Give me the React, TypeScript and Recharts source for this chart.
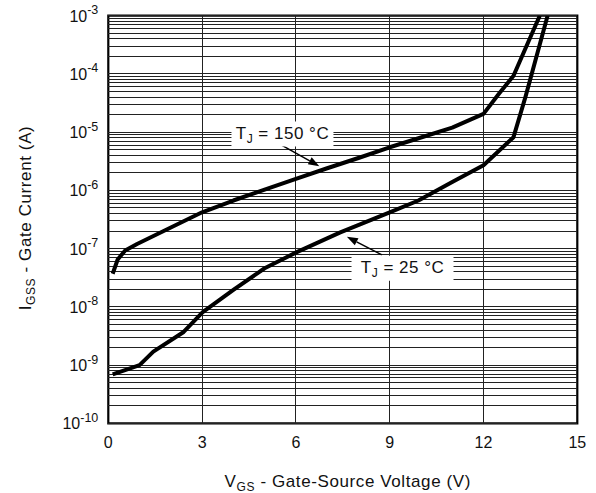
import React from 'react';
import {
  LineChart,
  Line,
  XAxis,
  YAxis,
  ReferenceLine,
  ReferenceArea,
  ReferenceDot,
} from 'recharts';

// gate leakage current vs gate-source voltage
const hotVgs = [0.14, 0.3, 0.54, 0.92, 2, 3, 4, 5, 6, 7, 8, 9, 10, 11, 12, 12.5, 12.96, 13.8];
const hotIgss = [
  3.7e-8, 6.5e-8, 9.3e-8, 1.2e-7, 2.3e-7, 4.2e-7, 6.7e-7, 1.03e-6, 1.58e-6, 2.4e-6,
  3.6e-6, 5.5e-6, 8.1e-6, 1.2e-5, 2.06e-5, 4.6e-5, 9.3e-5, 1e-3,
];

const coldVgs = [0.14, 1.0, 1.44, 2.41, 3.02, 4, 5, 6.03, 7.42, 9, 9.92, 11, 12, 12.96, 13.34, 14.05];
const coldIgss = [
  6.95e-10, 1e-9, 1.7e-9, 3.7e-9, 8.1e-9, 1.95e-8, 4.6e-8, 8.7e-8, 1.9e-7, 4.2e-7,
  6.7e-7, 1.4e-6, 2.7e-6, 8.2e-6, 4e-5, 1e-3,
];

const xTicks = [0, 3, 6, 9, 12, 15];
const xGrid = [3, 6, 9, 12];
const yTicks = [1e-10, 1e-9, 1e-8, 1e-7, 1e-6, 1e-5, 1e-4, 1e-3];
const gridDecades = [1e-10, 1e-9, 1e-8, 1e-7, 1e-6, 1e-5, 1e-4];
const gridMantissas = [1, 2, 3, 4, 5, 6, 7, 8, 9];

// annotation anchors (V, A)
const hotTag = { v: 5.57, i: 9.3e-6, temp: '150' };
const coldTag = { v: 9.41, i: 4.6e-8, temp: '25' };
const hotArrow = [{ x: 5.54, y: 6.0e-6 }, { x: 6.75, y: 2.6e-6 }];
const coldArrow = [{ x: 8.75, y: 7.8e-8 }, { x: 7.63, y: 1.6e-7 }];

const hotData = hotVgs.map((v, k) => ({ v, i: hotIgss[k] }));
const coldData = coldVgs.map((v, k) => ({ v, i: coldIgss[k] }));
const yGrid = gridDecades.flatMap((d) => gridMantissas.map((m) => m * d)).concat([1e-3]);

const FONT = '"Liberation Sans", Arial, Helvetica, sans-serif';

const XTick = ({ x, y, payload }: any) => (
  <text x={x} y={y} dy={17} textAnchor="middle" fontSize={16} fontFamily={FONT} fill="#111">
    {payload.value}
  </text>
);

const YTick = ({ x, y, payload }: any) => {
  const exp = Math.round(Math.log10(payload.value));
  return (
    <text x={x} y={y} dy={6} textAnchor="end" fontSize={16} fontFamily={FONT} fill="#111">
      <tspan>10</tspan>
      <tspan fontSize={12.5} dy={-7.5}>{exp}</tspan>
    </text>
  );
};

const TempTag = ({ cx, cy, temp }: any) => (
  <g>
    <rect x={cx - 51} y={cy - 12.5} width={102} height={25} fill="#fff" />
    <text x={cx} y={cy + 5} textAnchor="middle" fontSize={17} fontFamily={FONT} fill="#111" letterSpacing={0.5}>
      <tspan>T</tspan>
      <tspan fontSize={12} dy={4}>J</tspan>
      <tspan dy={-4}>{` = ${temp} °C`}</tspan>
    </text>
  </g>
);

const Arrow = (props: any) => {
  const { x1, y1, x2, y2 } = props;
  const ang = Math.atan2(y2 - y1, x2 - x1);
  const len = 11;
  const half = 4;
  const bx = x2 - len * Math.cos(ang);
  const by = y2 - len * Math.sin(ang);
  const px = -Math.sin(ang) * half;
  const py = Math.cos(ang) * half;
  return (
    <g>
      <line x1={x1} y1={y1} x2={bx} y2={by} stroke="#000" strokeWidth={1.5} />
      <polygon points={`${x2},${y2} ${bx + px},${by + py} ${bx - px},${by - py}`} fill="#000" />
    </g>
  );
};

const XTitle = ({ viewBox }: any) => (
  <text
    x={viewBox.x + viewBox.width / 2 + 5}
    y={viewBox.y + 63.5}
    textAnchor="middle"
    fontSize={17}
    fontFamily={FONT}
    fill="#111"
    letterSpacing={0.6}
  >
    <tspan>V</tspan>
    <tspan fontSize={12} dy={4}>GS</tspan>
    <tspan dy={-4}> - Gate-Source Voltage (V)</tspan>
  </text>
);

const YTitle = ({ viewBox }: any) => {
  const x = 31;
  const y = viewBox.y + viewBox.height / 2 - 1.5;
  return (
    <text
      x={x}
      y={y}
      transform={`rotate(-90, ${x}, ${y})`}
      textAnchor="middle"
      fontSize={17}
      fontFamily={FONT}
      fill="#111"
      letterSpacing={0.6}
    >
      <tspan>I</tspan>
      <tspan fontSize={12} dy={4}>GSS</tspan>
      <tspan dy={-4}> - Gate Current (A)</tspan>
    </text>
  );
};

export default function App() {
  return (
    <div style={{ width: 596, height: 493 }}>
      <style>{'body{margin:0}'}</style>
      <LineChart width={596} height={493} margin={{ top: 15.7, right: 18.7, bottom: 29.7, left: 48.3 }}>
        <XAxis
          type="number"
          dataKey="v"
          domain={[0, 15]}
          ticks={xTicks}
          allowDataOverflow
          axisLine={false}
          tickLine={false}
          height={40}
          tick={XTick}
          label={{ content: XTitle }}
        />
        <YAxis
          type="number"
          dataKey="i"
          scale="log"
          domain={[1e-10, 1e-3]}
          ticks={yTicks}
          allowDataOverflow
          axisLine={false}
          tickLine={false}
          tickMargin={4}
          width={60}
          tick={YTick}
          label={{ content: YTitle }}
        />
        {yGrid.map((g) => (
          <ReferenceLine key={`h${g}`} y={g} stroke="#222" strokeWidth={1} shapeRendering="crispEdges" />
        ))}
        {xGrid.map((g) => (
          <ReferenceLine key={`v${g}`} x={g} stroke="#222" strokeWidth={1} shapeRendering="crispEdges" />
        ))}
        <ReferenceArea x1={0} x2={15} y1={1e-10} y2={1e-3} fill="none" stroke="#000" strokeWidth={2.2} />
        <ReferenceDot
          x={hotTag.v}
          y={hotTag.i}
          shape={(p: any) => <TempTag {...p} temp={hotTag.temp} />}
        />
        <ReferenceDot
          x={coldTag.v}
          y={coldTag.i}
          shape={(p: any) => <TempTag {...p} temp={coldTag.temp} />}
        />
        <ReferenceLine segment={hotArrow} shape={Arrow} />
        <ReferenceLine segment={coldArrow} shape={Arrow} />
        <Line
          data={hotData}
          dataKey="i"
          type="linear"
          stroke="#000"
          strokeWidth={4}
          strokeLinejoin="round"
          dot={false}
          isAnimationActive={false}
        />
        <Line
          data={coldData}
          dataKey="i"
          type="linear"
          stroke="#000"
          strokeWidth={4}
          strokeLinejoin="round"
          dot={false}
          isAnimationActive={false}
        />
      </LineChart>
    </div>
  );
}
